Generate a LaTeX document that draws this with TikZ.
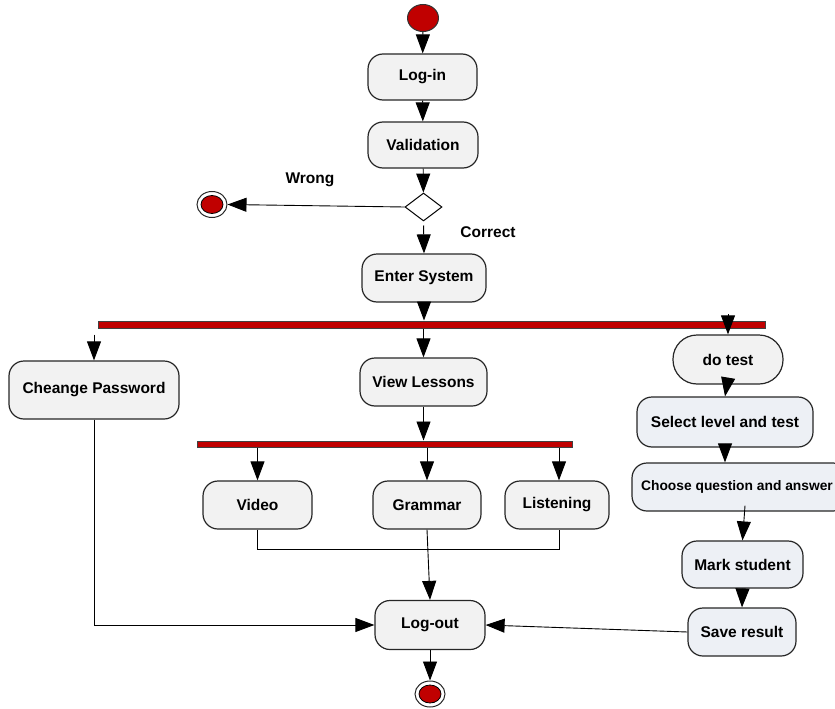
\documentclass[tikz,border=0pt]{standalone}
\usepackage{fontspec}
\setmainfont{Liberation Sans}
\usetikzlibrary{arrows.meta,shapes.geometric}
\definecolor{actfill}{HTML}{F2F2F2}
\definecolor{testfill}{HTML}{EDF0F5}
\definecolor{umlred}{HTML}{C00000}
\definecolor{edge}{HTML}{262626}

\begin{document}
\begin{tikzpicture}[x=1pt,y=-1pt,
  font=\fontsize{15.5}{18}\selectfont\bfseries,
  act/.style={draw=edge, line width=1.2pt, fill=actfill, rounded corners=15pt,
    inner sep=0pt, align=center},
  testact/.style={act, fill=testfill},
  forkbar/.style={rectangle, draw=black!75, line width=1pt, fill=umlred, inner sep=0pt},
  flow/.style={draw=black, line width=0.9pt, -{Triangle[width=14pt,length=19pt]}},
  link/.style={draw=black, line width=0.9pt},
  startdot/.style={ellipse, draw=black!80, fill=umlred, line width=1pt,
    minimum width=31pt, minimum height=27pt, inner sep=0pt},
  enddot/.style={ellipse, draw=black!85, fill=white, line width=1pt,
    minimum width=30pt, minimum height=26pt, inner sep=0pt,
    path picture={\fill[umlred, draw=black, line width=0.8pt]
      (path picture bounding box.center) ellipse (11pt and 9pt);}},
  decision/.style={diamond, draw=black, line width=1pt, fill=white,
    minimum width=37pt, minimum height=28pt, inner sep=0pt},
  lbl/.style={inner sep=0pt}
]
\useasboundingbox (0,0) rectangle (835,709);
\clip (0,0) rectangle (835,709);

% initial part: log-in and validation
\node[startdot] (start) at (423,18) {};
\node[act, minimum width=109pt, minimum height=46pt] (login) at (422.5,77) {Log-in};
\node[act, minimum width=110pt, minimum height=46pt] (valid) at (423,145) {Validation};
\node[decision] (dec) at (423.5,207) {};
\node[enddot] (wrongend) at (212,204.5) {};
\node[lbl] (wrong) at (310,180) {Wrong};
\node[lbl] (correct) at (488,232) {Correct};
\node[act, minimum width=124pt, minimum height=48pt] (enter) at (424,278) {Enter System};

% first fork
\node[forkbar, minimum width=667pt, minimum height=7pt] (bar1) at (431.5,324.5) {};
\node[act, minimum width=170pt, minimum height=58pt] (cpw) at (94,390) {Cheange Password};
\node[act, minimum width=127pt, minimum height=48pt] (view) at (423.5,382) {View Lessons};
\node[act, rounded corners=24pt, minimum width=110pt, minimum height=49pt] (dotest) at (728,359.5) {do test};

% test branch
\node[testact, minimum width=216pt, minimum height=48pt,
  font=\fontsize{13.8}{16}\selectfont\bfseries] (choose) at (740,487) {};
\node[font=\fontsize{13.8}{16}\selectfont\bfseries, inner sep=0pt] (choosetext) at (737,487) {Choose question and answer};
\node[testact, minimum width=176pt, minimum height=50pt] (select) at (725,422) {Select level and test};
\node[testact, minimum width=121pt, minimum height=47pt] (mark) at (742.5,564.5) {Mark student};
\node[testact, minimum width=108pt, minimum height=48pt] (save) at (742,632) {Save result};

% lessons fork
\node[forkbar, minimum width=375pt, minimum height=6pt] (bar2) at (384.5,444) {};
\node[act, minimum width=109pt, minimum height=48pt] (video) at (257.5,505) {Video};
\node[act, minimum width=108pt, minimum height=48pt] (grammar) at (427,505) {Grammar};
\node[act, minimum width=104pt, minimum height=48pt] (listen) at (557,505) {Listening};

% end
\node[act, minimum width=110pt, minimum height=49pt] (logout) at (430,625) {Log-out};
\node[enddot] (final) at (430,694) {};

\coordinate (testin) at (728,314);

% connectors
\draw[flow] (start) -- (login);
\draw[flow] (login) -- (valid);
\draw[flow] (valid) -- (dec);
\draw[flow] (dec.west) -- (wrongend.east);
\draw[flow, shorten <=4pt] (dec.south) -- (enter.north);
\draw[flow] (enter.south) -- (enter.south |- bar1.north);
\draw[flow, shorten <=6pt] (bar1.south -| cpw.north) -- (cpw.north);
\draw[flow] (bar1.south -| view.north) -- (view.north);
\draw[flow] (testin) -- (dotest.north);
\draw[flow] ([yshift=6pt]dotest.south) -- (select.north);
\draw[flow] ([yshift=4pt]select.south) -- (select.south |- choose.north);
\draw[flow] ([xshift=5pt,yshift=6pt]choose.south) -- (mark.north);
\draw[flow] (mark.south) -- (save.north);
\draw[flow] (save.west) -- (logout.east);
\draw[flow] (cpw.south) |- (logout.west);
\draw[flow] (view.south) -- (view.south |- bar2.north);
\draw[flow] (bar2.south -| video.north) -- (video.north);
\draw[flow] (bar2.south -| grammar.north) -- (grammar.north);
\draw[flow] ([xshift=2pt]bar2.south -| listen.north) -- ([xshift=2pt]listen.north);
\draw[link] (video.south) -- ++(0,20) -| ([xshift=2pt]listen.south);
\draw[flow] (grammar.south) -- (logout.north);
\draw[flow] (logout.south) -- (final.north);
\end{tikzpicture}
\end{document}
